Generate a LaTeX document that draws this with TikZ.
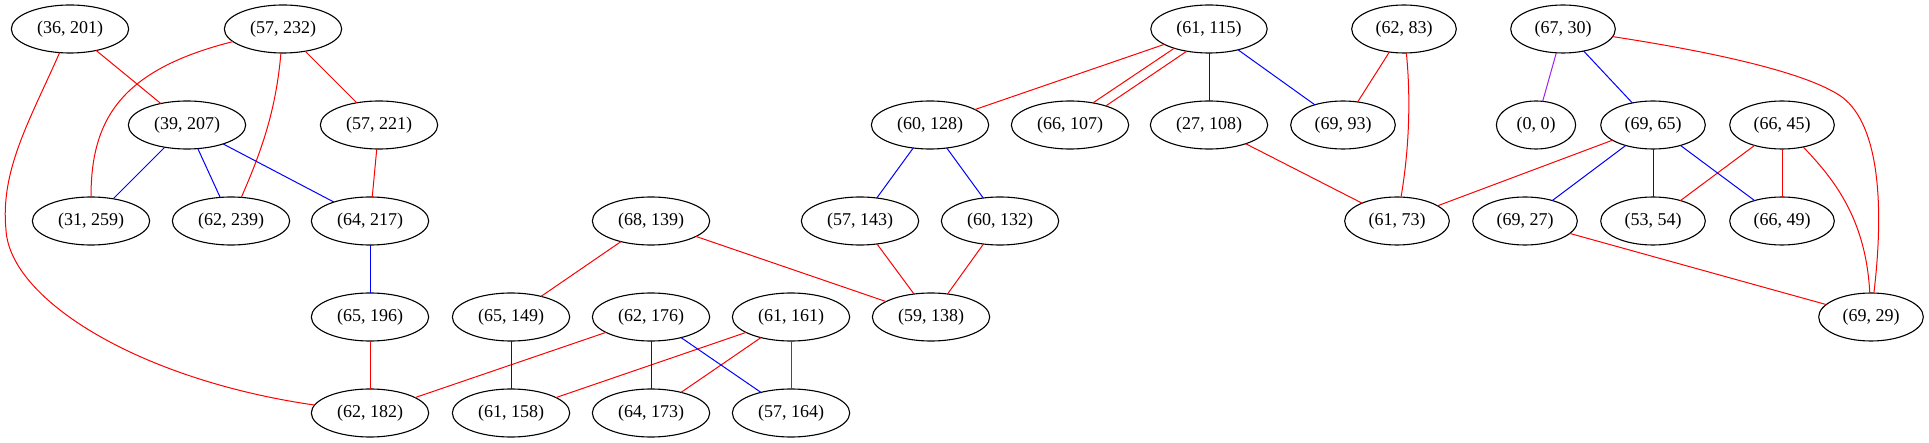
\documentclass[tikz,border=0pt]{standalone}
\usepackage{fontspec}
\setmainfont{Liberation Serif}
\usetikzlibrary{shapes.geometric}
\definecolor{gvred}{RGB}{255,0,0}
\definecolor{gvblue}{RGB}{0,0,255}
\definecolor{gvpurple}{RGB}{160,32,240}
\tikzset{
  gv/.style={draw=black, ellipse, line width=1.1pt, inner xsep=8.5pt, inner ysep=0pt,
    minimum height=48pt, minimum width=72pt, outer sep=0pt,
    font=\fontsize{18}{20}\selectfont},
  re/.style={draw=gvred, line width=1pt},
  be/.style={draw=gvblue, line width=1pt},
  pe/.style={draw=gvpurple, line width=1pt}
}
\begin{document}
\begin{tikzpicture}[x=1pt,y=-1pt]
\useasboundingbox (0,0) rectangle (1929,443);
% nodes
\node[gv] (n36x201) at (70,29) {(36, 201)};
\node[gv] (n57x232) at (283,29) {(57, 232)};
\node[gv] (n39x207) at (187,125) {(39, 207)};
\node[gv] (n57x221) at (379,125) {(57, 221)};
\node[gv] (n31x259) at (91,221) {(31, 259)};
\node[gv] (n62x239) at (231,221) {(62, 239)};
\node[gv] (n64x217) at (370,221) {(64, 217)};
\node[gv] (n65x196) at (370,317) {(65, 196)};
\node[gv] (n65x149) at (511,317) {(65, 149)};
\node[gv] (n62x182) at (370,413) {(62, 182)};
\node[gv] (n61x158) at (511,413) {(61, 158)};
\node[gv] (n68x139) at (651,221) {(68, 139)};
\node[gv] (n62x176) at (651,317) {(62, 176)};
\node[gv] (n64x173) at (651,413) {(64, 173)};
\node[gv] (n61x161) at (791,317) {(61, 161)};
\node[gv] (n57x164) at (791,413) {(57, 164)};
\node[gv] (n60x128) at (930,125) {(60, 128)};
\node[gv] (n57x143) at (860,221) {(57, 143)};
\node[gv] (n60x132) at (1000,221) {(60, 132)};
\node[gv] (n59x138) at (931,317) {(59, 138)};
\node[gv] (n66x107) at (1070,125) {(66, 107)};
\node[gv] (n61x115) at (1209,29) {(61, 115)};
\node[gv] (n27x108) at (1209,125) {(27, 108)};
\node[gv] (n69x93) at (1343,125) {(69, 93)};
\node[gv] (n62x83) at (1404,29) {(62, 83)};
\node[gv] (n61x73) at (1397,221) {(61, 73)};
\node[gv] (n67x30) at (1563,29) {(67, 30)};
\node[gv] (n0x0) at (1536,125) {(0, 0)};
\node[gv] (n69x65) at (1653,125) {(69, 65)};
\node[gv] (n69x27) at (1525,221) {(69, 27)};
\node[gv] (n53x54) at (1653,221) {(53, 54)};
\node[gv] (n66x45) at (1782,125) {(66, 45)};
\node[gv] (n66x49) at (1782,221) {(66, 49)};
\node[gv] (n69x29) at (1871,317) {(69, 29)};
% red edges
\draw[re] (n36x201) -- (n39x207);
\draw[re] (n36x201) .. controls (30,120) and (0,170) .. (6,230) .. controls (10,300) and (140,380) .. (n62x182);
\draw[re] (n57x232) .. controls (120,70) and (91,120) .. (n31x259);
\draw[re] (n57x232) .. controls (276,110) and (262,150) .. (n62x239);
\draw[re] (n57x232) -- (n57x221);
\draw[re] (n57x221) -- (n64x217);
\draw[re] (n65x196) -- (n62x182);
\draw[re] (n68x139) -- (n65x149);
\draw[re] (n68x139) -- (n59x138);
\draw[re] (n62x176) -- (n62x182);
\draw[re] (n61x161) -- (n61x158);
\draw[re] (n61x161) -- (n64x173);
\draw[re] (n61x161) -- (n57x164);
\draw[re] (n57x143) -- (n59x138);
\draw[re] (n60x132) -- (n59x138);
\draw[re] (n61x115) -- (n60x128);
\draw[re] (n61x115.209) -- (n66x107.44);
\draw[re] (n61x115.225) -- (n66x107.28);
\draw[re] (n27x108) -- (n61x73);
\draw[re] (n62x83) -- (n69x93);
\draw[re] (n62x83) .. controls (1411,100) and (1409,150) .. (n61x73);
\draw[re] (n67x30) .. controls (1700,50) and (1800,70) .. (1839,95) .. controls (1878,120) and (1885,200) .. (n69x29);
\draw[re] (n69x65) -- (n61x73);
\draw[re] (n66x45) -- (n53x54);
\draw[re] (n66x45) -- (n66x49);
\draw[re] (n66x45) .. controls (1835,180) and (1866,220) .. (n69x29);
\draw[re] (n69x27) -- (n69x29);
% blue edges
\draw[be] (n39x207) -- (n31x259);
\draw[be] (n39x207) -- (n62x239);
\draw[be] (n39x207) -- (n64x217);
\draw[be] (n64x217) -- (n65x196);
\draw[be] (n65x149) -- (n61x158);
\draw[be] (n62x176) -- (n64x173);
\draw[be] (n62x176) -- (n57x164);
\draw[be] (n60x128) -- (n57x143);
\draw[be] (n60x128) -- (n60x132);
\draw[be] (n61x115) -- (n27x108);
\draw[be] (n61x115) -- (n69x93);
\draw[be] (n67x30) -- (n69x65);
\draw[be] (n69x65) -- (n69x27);
\draw[be] (n69x65) -- (n53x54);
\draw[be] (n69x65) -- (n66x49);
% purple edge
\draw[pe] (n67x30) -- (n0x0);
\end{tikzpicture}
\end{document}
